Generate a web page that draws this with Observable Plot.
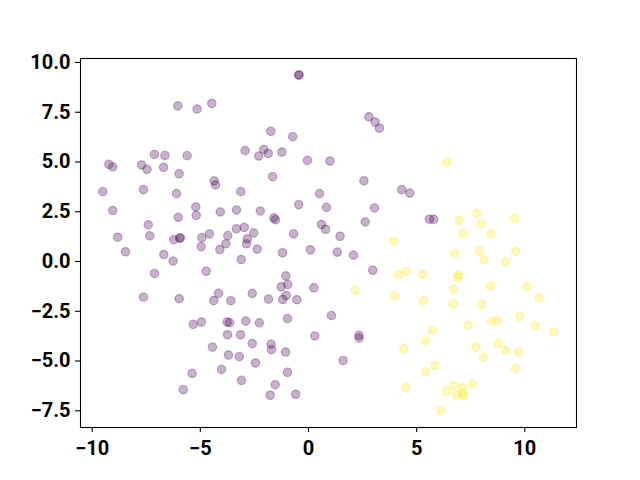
<!DOCTYPE html>
<html>
<head>
<meta charset="utf-8">
<script src="https://cdn.jsdelivr.net/npm/d3@7"></script>
<script src="https://cdn.jsdelivr.net/npm/@observablehq/plot@0.6"></script>
<style>
  html, body { margin: 0; padding: 0; background: #fff; }
</style>
</head>
<body>
<div id="chart"></div>
<script>
// Class 0 (purple)
const purpleX = [-6.04,-5.15,-4.47,-2.93,-7.12,-6.64,-5.61,-9.23,-9.05,-7.72,-7.46,-6.70,-5.98,-4.36,-4.30,-9.51,-7.63,-6.10,-3.13,-9.05,-5.21,-5.19,-4.08,-3.33,-6.02,-7.41,-3.33,-2.97,-8.82,-7.34,-6.23,-5.96,-5.92,-4.93,-4.58,-3.73,-2.83,-4.96,-4.10,-3.82,-2.87,-8.46,-6.69,-6.26,-3.11,-4.73,-7.12,-7.63,-5.98,-4.16,-4.38,-3.59,-2.60,-5.33,-4.95,-3.76,-3.65,-2.90,-3.74,-3.14,-2.60,-4.44,-3.70,-3.20,-4.02,-5.38,-3.10,-5.79,
  -0.45,-0.44,2.79,3.08,3.28,-1.74,-0.73,-2.07,-2.30,-1.86,-1.23,-0.05,0.99,-1.66,2.56,4.31,4.68,0.51,-0.45,0.83,3.05,-2.23,-1.60,-1.53,2.62,0.60,0.79,-0.69,1.46,-2.53,
  5.59,5.79,
  -2.37,-1.20,0.09,1.33,2.08,2.97,-1.05,-1.26,-0.96,-1.03,-1.19,-1.85,-0.54,0.25,1.06,-2.27,-0.97,0.29,2.33,2.34,-1.73,-1.71,-1.06,-2.45,1.60,-0.97,-1.54,-1.77,-0.59];
const purpleY = [7.82,7.66,7.94,5.57,5.38,5.33,5.32,4.88,4.75,4.85,4.63,4.73,4.41,4.05,3.85,3.51,3.61,3.41,3.51,2.56,2.74,2.32,2.49,2.59,2.22,1.84,1.64,1.71,1.22,1.29,1.10,1.17,1.19,1.20,1.39,1.30,1.14,0.75,0.60,0.89,0.89,0.49,0.35,0.02,0.10,-0.49,-0.60,-1.79,-1.87,-1.60,-1.96,-1.97,-1.60,-3.16,-3.04,-3.04,-3.08,-2.99,-3.68,-3.68,-4.12,-4.30,-4.70,-4.78,-5.42,-5.62,-5.97,-6.44,
  9.36,9.38,7.27,7.01,6.70,6.54,6.27,5.63,5.30,5.43,5.50,5.08,5.05,4.26,4.05,3.61,3.44,3.41,2.86,2.72,2.69,2.54,2.19,2.10,1.99,1.86,1.62,1.39,1.27,1.44,
  2.12,2.12,
  0.62,0.44,0.59,0.47,0.32,-0.44,-0.72,-1.27,-1.15,-1.71,-1.91,-1.89,-1.92,-1.32,-2.71,-3.08,-2.87,-3.74,-3.71,-3.85,-4.15,-4.43,-4.55,-5.10,-4.97,-5.57,-6.19,-6.72,-6.67];

// Class 1 (yellow)
const yellowX = [6.39,6.97,7.78,7.97,9.52,7.15,8.43,3.95,4.16,4.52,2.16,3.98,4.41,4.48,6.76,7.91,8.12,9.11,9.58,5.27,6.95,6.90,6.70,8.41,10.11,10.66,5.32,6.69,8.01,9.77,7.38,8.46,8.71,10.48,11.34,5.73,5.41,7.75,8.78,9.11,9.71,8.08,5.84,5.42,9.57,7.58,6.70,7.12,6.38,6.83,7.13,7.17,6.12];
const yellowY = [4.98,2.06,2.42,1.89,2.17,1.42,1.39,1.02,-0.67,-0.49,-1.45,-1.72,-4.38,-6.32,0.40,0.52,0.08,-0.02,0.52,-0.64,-0.67,-0.79,-1.39,-1.24,-1.27,-1.84,-1.97,-2.12,-2.16,-2.77,-3.21,-3.01,-2.97,-3.23,-3.54,-3.46,-4.00,-4.31,-4.11,-4.46,-4.55,-4.80,-5.23,-5.53,-5.37,-6.15,-6.22,-6.32,-6.52,-6.70,-6.60,-6.77,-7.47];

const xTicks = [-10, -5, 0, 5, 10];
const yTicks = [-7.5, -5.0, -2.5, 0.0, 2.5, 5.0, 7.5, 10.0];

const classColors = ["#440154", "#fde725"];

const data = [
  ...purpleX.map((x, i) => ({x, y: purpleY[i], c: 0})),
  ...yellowX.map((x, i) => ({x, y: yellowY[i], c: 1}))
];

const fmt = d3.format(".1f");

const chart = Plot.plot({
  width: 640,
  height: 480,
  marginLeft: 80,
  marginRight: 64,
  marginTop: 58,
  marginBottom: 53,
  style: {fontFamily: "Roboto", fontWeight: "bold", fontSize: "20px", color: "#000", background: "#fff"},
  x: {domain: [-10.54, 12.39]},
  y: {domain: [-8.34, 10.20]},
  color: {domain: [0, 1], range: classColors},
  marks: [
    Plot.dot(data, {x: "x", y: "y", r: 4.2, fill: d => classColors[d.c], stroke: d => classColors[d.c], fillOpacity: 0.3, strokeOpacity: 0.3, strokeWidth: 1.2}),
    Plot.frame({stroke: "#000", strokeWidth: 1.1}),
    Plot.axisX(xTicks, {tickSize: 5, tickPadding: 8, label: null, tickFormat: d3.format("d"), strokeWidth: 1.1}),
    Plot.axisY(yTicks, {tickSize: 5, tickPadding: 5, label: null, tickFormat: fmt, strokeWidth: 1.1})
  ]
});
document.getElementById("chart").appendChild(chart);
</script>
</body>
</html>
